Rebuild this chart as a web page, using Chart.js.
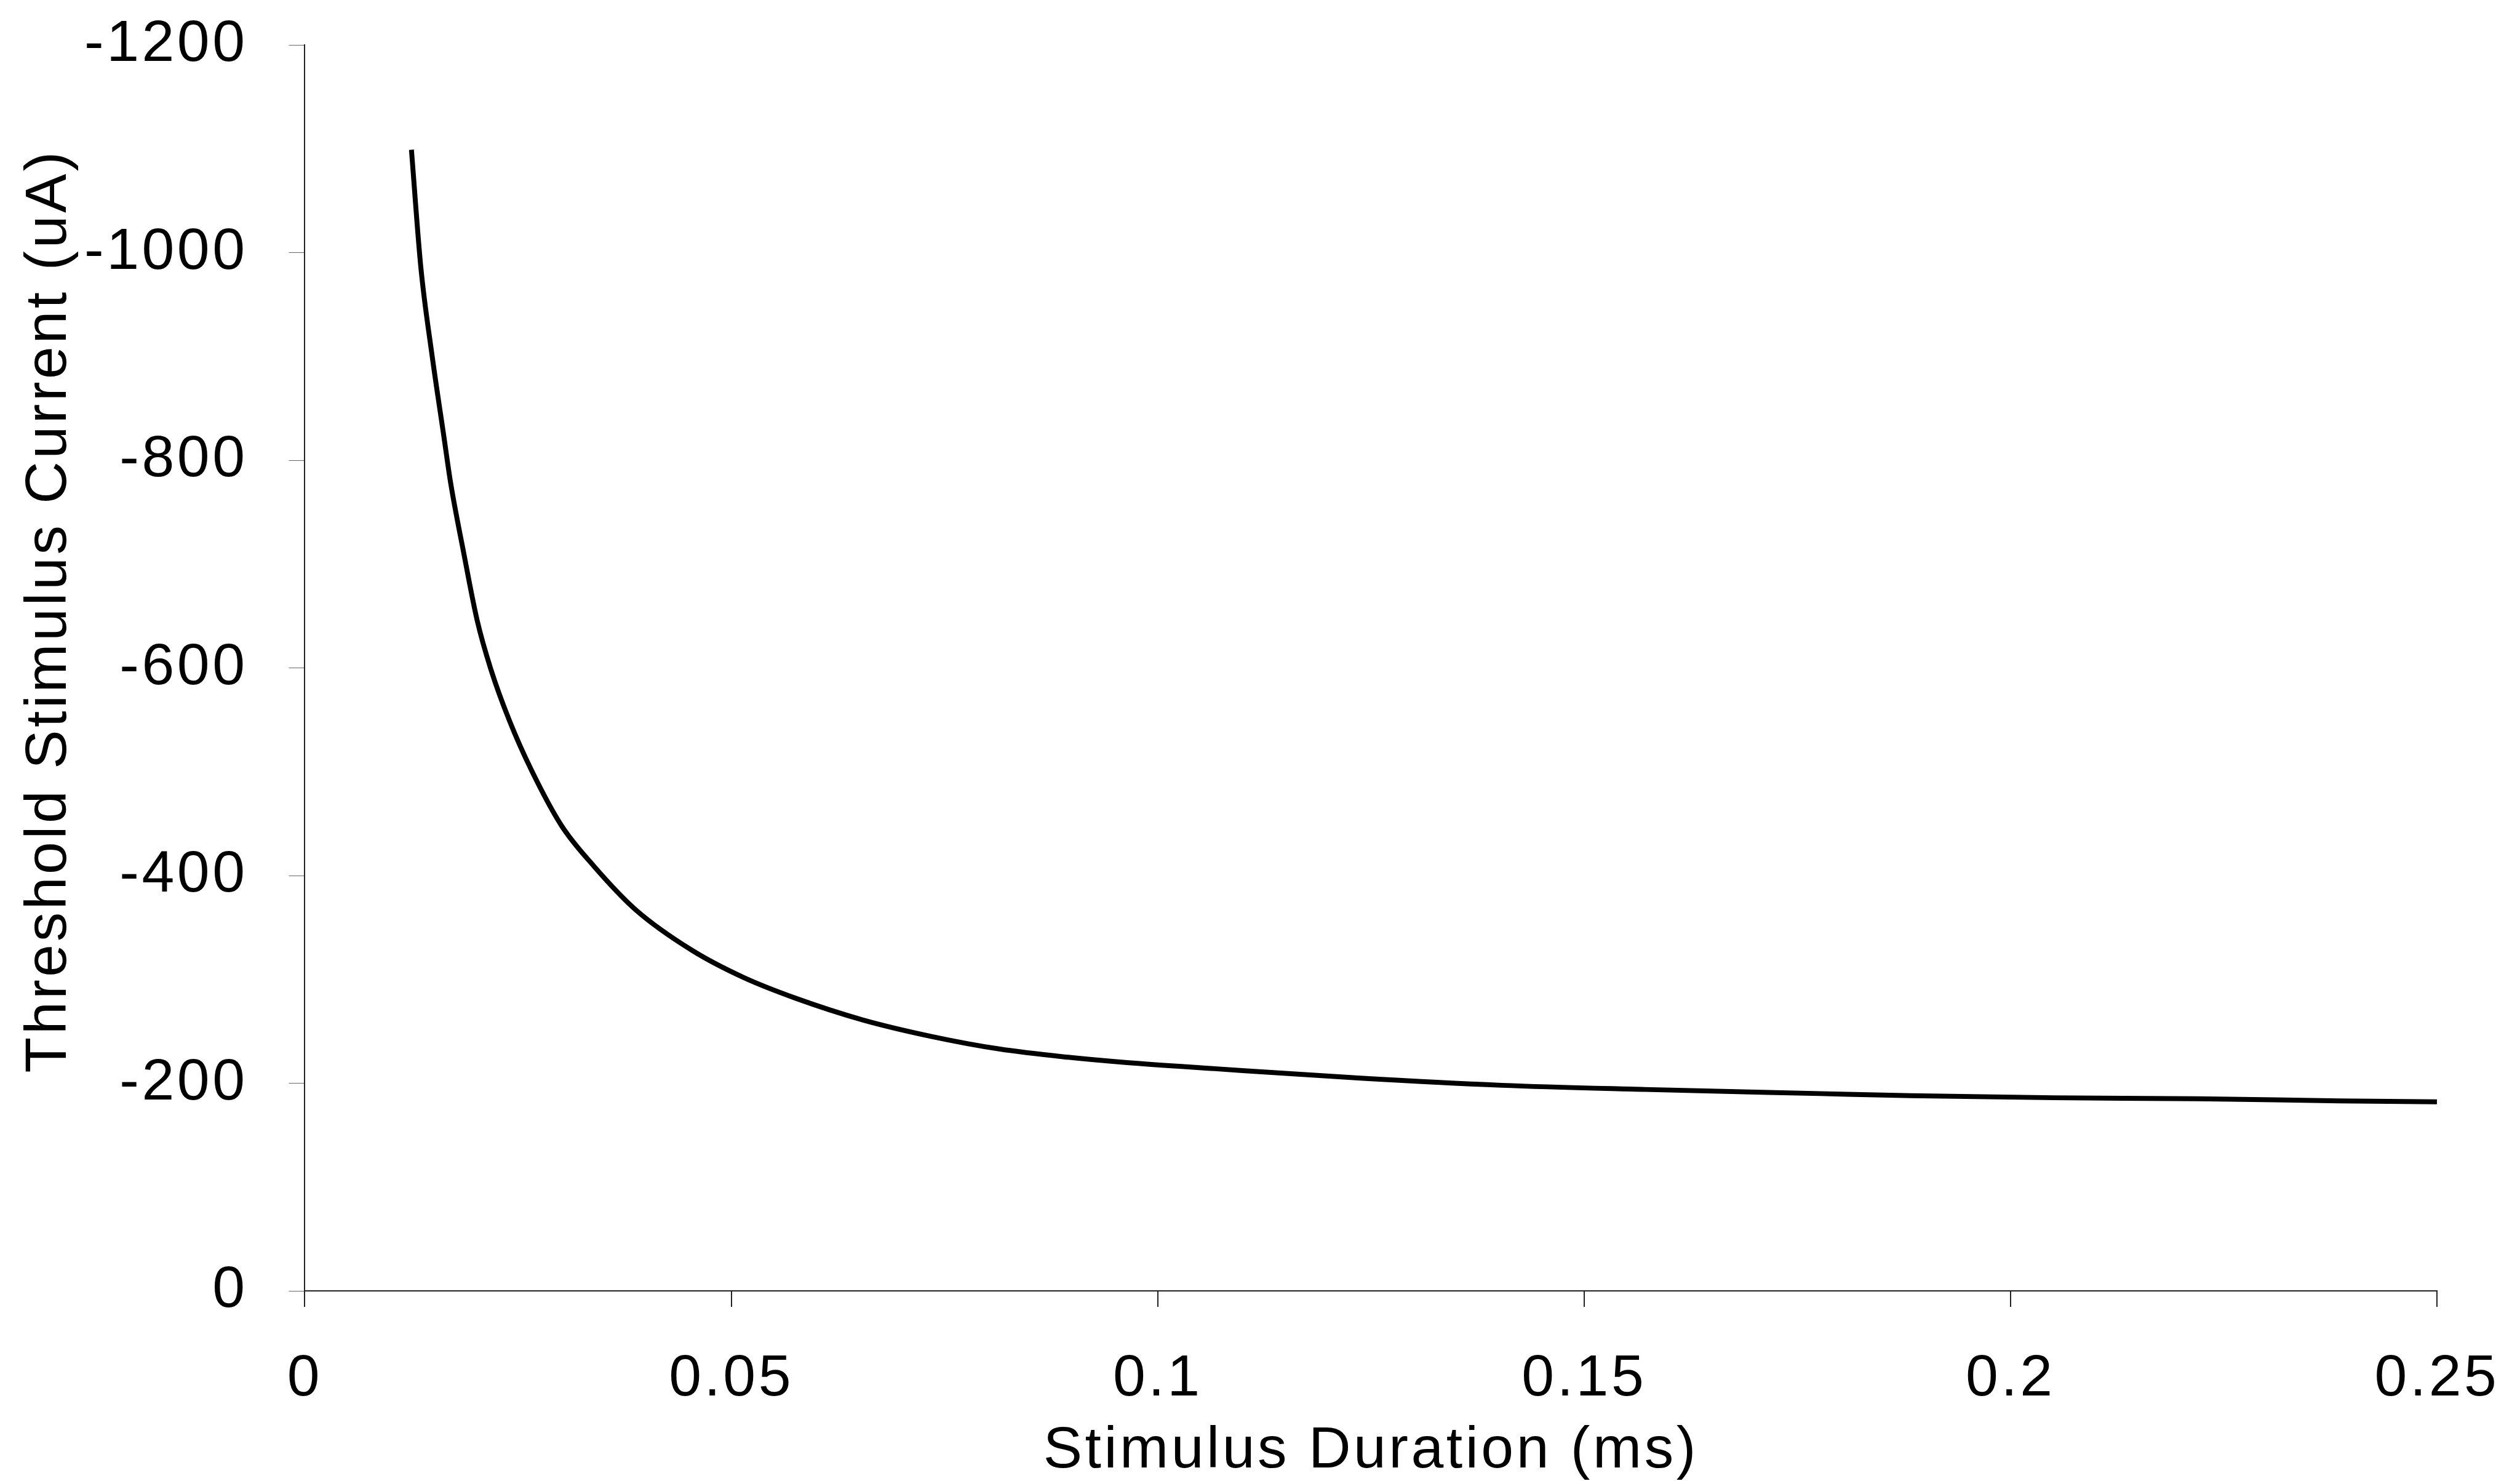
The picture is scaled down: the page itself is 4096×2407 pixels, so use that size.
<!DOCTYPE html>
<html>
<head>
<meta charset="utf-8">
<title>Threshold Stimulus Current vs Stimulus Duration</title>
<script src="https://cdn.jsdelivr.net/npm/chart.js@4.4.1/dist/chart.umd.min.js"></script>
<style>
    html, body { margin: 0; padding: 0; background: #ffffff; }
    #chart { display: block; }
</style>
</head>
<body>
<canvas id="chart" width="4096" height="2407"></canvas>
<script>
'use strict';

// stimulus duration (ms)
var duration = [0.0125, 0.0136, 0.0149, 0.0163, 0.0171, 0.0186, 0.0202, 0.0218, 0.0240, 0.0266,
    0.0301, 0.0339, 0.0388, 0.0454, 0.0514, 0.0575, 0.0654, 0.0735, 0.0814, 0.0895,
    0.0962, 0.1067, 0.1235, 0.1403, 0.1571, 0.1777, 0.1883, 0.2051, 0.2219, 0.2386, 0.25];

// threshold stimulus current (uA)
var current = [-1099, -986, -902, -823, -778, -712, -646, -599, -549, -501,
    -448, -409, -367, -328, -302, -282, -261, -245, -233, -225,
    -220, -214, -205, -198, -194, -190, -188, -186, -185, -183, -182];

var xTickLabels = ['0', '0.05', '0.1', '0.15', '0.2', '0.25'];
var yTickLabels = ['-1200', '-1000', '-800', '-600', '-400', '-200', '0'];

var FONT = "'Liberation Sans', Arial, sans-serif";

var points = duration.map(function(d, i) {
    return { x: d, y: current[i] };
});

// the scanned figure has wide letter spacing
var spacingPlugin = {
    id: 'spacing',
    beforeUpdate: function(chart) { chart.ctx.letterSpacing = '4.5px'; },
    beforeLayout: function(chart) { chart.ctx.letterSpacing = '4.5px'; },
    beforeDraw: function(chart) { chart.ctx.letterSpacing = '4.5px'; }
};

// no extra room for the end labels, the layout padding handles it
function noEdgePadding(axis) {
    axis.paddingTop = 0;
    axis.paddingBottom = 0;
    axis.paddingLeft = 0;
    axis.paddingRight = 0;
}

var ctx = document.getElementById('chart').getContext('2d');
ctx.letterSpacing = '4.5px';

new Chart(ctx, {
    type: 'scatter',
    data: {
        datasets: [{
            label: 'Threshold',
            data: points,
            showLine: true,
            borderColor: '#000000',
            borderWidth: 8,
            pointRadius: 0,
            pointHoverRadius: 0,
            fill: false,
            cubicInterpolationMode: 'monotone'
        }]
    },
    options: {
        responsive: false,
        animation: false,
        devicePixelRatio: 1,
        layout: { padding: { top: 73, right: 135, bottom: 1, left: 0 } },
        plugins: {
            legend: { display: false },
            tooltip: { enabled: false }
        },
        scales: {
            x: {
                type: 'linear',
                min: 0,
                max: 0.25,
                border: { display: true, color: '#222222', width: 2 },
                grid: {
                    drawOnChartArea: false,
                    drawTicks: true,
                    tickLength: 26,
                    color: '#222222',
                    lineWidth: 2
                },
                afterBuildTicks: function(axis) {
                    axis.ticks = xTickLabels.map(function(t) { return { value: parseFloat(t) }; });
                },
                afterFit: noEdgePadding,
                ticks: {
                    padding: 61,
                    color: '#000000',
                    maxRotation: 0,
                    font: { family: FONT, size: 95 },
                    callback: function(value, index) { return xTickLabels[index]; }
                },
                title: {
                    display: true,
                    text: 'Stimulus Duration (ms)',
                    color: '#000000',
                    padding: { top: -49, bottom: 0 },
                    font: { family: FONT, size: 95, lineHeight: 1.0 }
                }
            },
            y: {
                type: 'linear',
                min: -1200,
                max: 0,
                reverse: true,
                border: { display: true, color: '#222222', width: 2 },
                grid: {
                    drawOnChartArea: false,
                    drawTicks: true,
                    tickLength: 26,
                    color: '#666666',
                    lineWidth: 1
                },
                afterBuildTicks: function(axis) {
                    axis.ticks = yTickLabels.map(function(t) { return { value: parseFloat(t) }; });
                },
                afterFit: noEdgePadding,
                ticks: {
                    padding: 67,
                    color: '#000000',
                    font: { family: FONT, size: 95 },
                    callback: function(value, index) { return yTickLabels[index]; }
                },
                title: {
                    display: true,
                    // leading spaces lift the centred title a bit, as in the original
                    text: '      Threshold Stimulus Current (uA)',
                    color: '#000000',
                    padding: { top: 33, bottom: -58 },
                    font: { family: FONT, size: 95, lineHeight: 1.0 }
                }
            }
        }
    },
    plugins: [spacingPlugin]
});
</script>
</body>
</html>
